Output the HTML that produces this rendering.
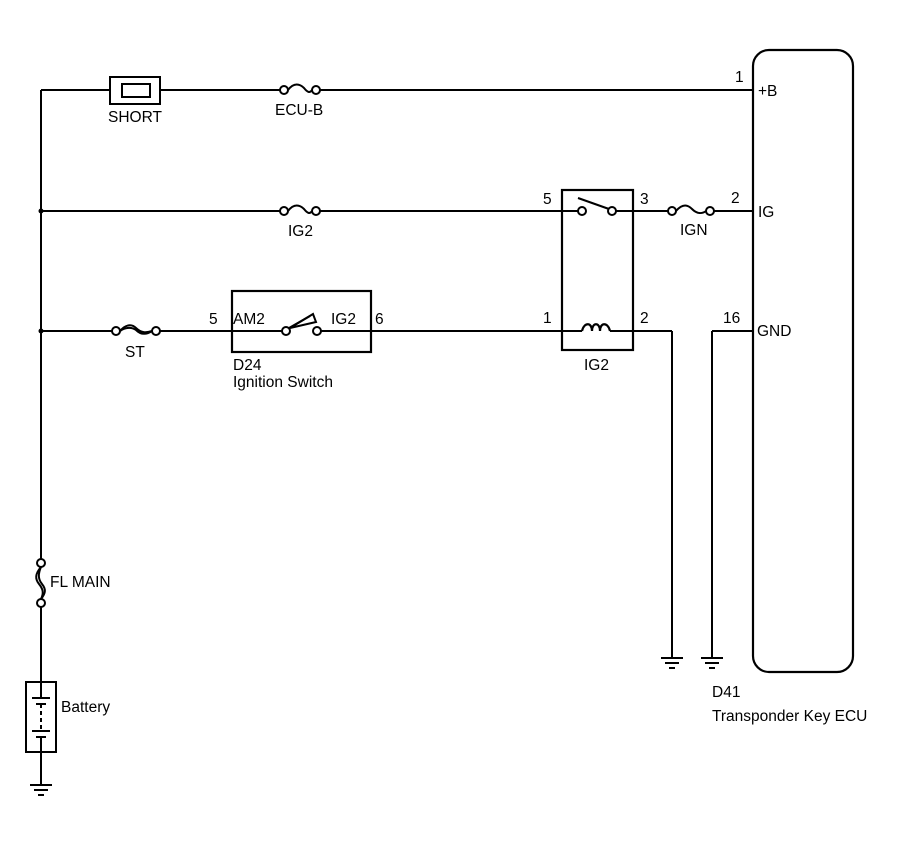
<!DOCTYPE html>
<html><head><meta charset="utf-8"><style>
html,body{margin:0;padding:0;background:#fff;}
svg{display:block;}
text{font-family:"Liberation Sans",Arial,sans-serif;font-size:15.5px;fill:#000;}
</style></head><body>
<svg width="907" height="866" viewBox="0 0 907 866" xmlns="http://www.w3.org/2000/svg">
<g stroke="#000" stroke-width="2" fill="none">
<rect x="753" y="50" width="100" height="622" rx="16" ry="16" stroke-width="2.2"/>
<line x1="41" y1="90" x2="41" y2="559"/>
<line x1="41" y1="607" x2="41" y2="785"/>
<line x1="41" y1="90" x2="110" y2="90"/>
<line x1="160" y1="90" x2="280" y2="90"/>
<line x1="320" y1="90" x2="753" y2="90"/>
<rect x="110" y="77" width="50" height="27"/>
<rect x="122" y="84" width="28" height="13"/>
<circle cx="284" cy="90" r="4"/><circle cx="316" cy="90" r="4"/>
<path d="M288,90 C294,82 300,84 304,88 C308,93 310,93 312,90"/>
<line x1="41" y1="211" x2="280" y2="211"/>
<line x1="320" y1="211" x2="578" y2="211"/>
<circle cx="284" cy="211" r="4"/><circle cx="316" cy="211" r="4"/>
<path d="M288,211 C294,203 300,205 304,209 C308,214 310,214 312,211"/>
<rect x="562" y="190" width="71" height="160" stroke-width="2.2"/>
<circle cx="582" cy="211" r="4"/><circle cx="612" cy="211" r="4"/>
<line x1="578" y1="198" x2="609" y2="209"/>
<line x1="616" y1="211" x2="668" y2="211"/>
<circle cx="672" cy="211" r="4"/><circle cx="710" cy="211" r="4"/>
<path d="M676,211 C683,203 688,205 692,209 C697,214 702,214 706,211"/>
<line x1="714" y1="211" x2="753" y2="211"/>
<line x1="41" y1="331" x2="112" y2="331"/>
<circle cx="116" cy="331" r="4"/><circle cx="156" cy="331" r="4"/>
<path d="M120,331 C126,324 132,324 136,328 C141,333 146,333 152,331"/>
<path d="M120,331 C126,327 132,327 136,330 C141,335 146,335 152,331"/>
<line x1="160" y1="331" x2="282" y2="331"/>
<rect x="232" y="291" width="139" height="61" stroke-width="2.2"/>
<circle cx="286" cy="331" r="4"/><circle cx="317" cy="331" r="4"/>
<line x1="289" y1="328" x2="310" y2="316"/>
<path d="M290,328 L313,314 L316,322 Z"/>
<line x1="321" y1="331" x2="582" y2="331"/>
<path d="M582,331 C584,322 592,322 592,331 C592,322 600,322 600,331 C600,322 608,322 610,331" stroke-width="2.2"/>
<line x1="610" y1="331" x2="672" y2="331"/>
<line x1="672" y1="331" x2="672" y2="658"/>
<line x1="753" y1="331" x2="712" y2="331"/>
<line x1="712" y1="331" x2="712" y2="658"/>
<line x1="661" y1="658" x2="683" y2="658"/><line x1="665" y1="663" x2="679" y2="663"/><line x1="669" y1="668" x2="675" y2="668"/>
<line x1="701" y1="658" x2="723" y2="658"/><line x1="705" y1="663" x2="719" y2="663"/><line x1="709" y1="668" x2="715" y2="668"/>
<line x1="30" y1="785" x2="52" y2="785"/><line x1="34" y1="790" x2="48" y2="790"/><line x1="38" y1="795" x2="44" y2="795"/>
<circle cx="41" cy="563" r="4"/><circle cx="41" cy="603" r="4"/>
<path d="M41,567 C35,574 35,579 39,584 C43,589 44,593 41,599"/>
<path d="M41,567 C38,574 38,579 42,584 C46,589 46,593 41,599"/>
<rect x="26" y="682" width="30" height="70" fill="#fff"/>
<line x1="41" y1="682" x2="41" y2="698"/>
<line x1="32" y1="698" x2="50" y2="698"/>
<line x1="36" y1="704" x2="46" y2="704"/>
<line x1="41" y1="704" x2="41" y2="730" stroke-dasharray="4,3"/>
<line x1="32" y1="731" x2="50" y2="731"/>
<line x1="36" y1="737" x2="46" y2="737"/>
<line x1="41" y1="737" x2="41" y2="752"/>
</g>
<circle cx="41" cy="211" r="2.5" fill="#000"/>
<circle cx="41" cy="331" r="2.5" fill="#000"/>
<text x="108" y="122">SHORT</text>
<text x="275" y="115">ECU-B</text>
<text x="735" y="82">1</text>
<text x="758" y="96">+B</text>
<text x="288" y="236">IG2</text>
<text x="543" y="204">5</text>
<text x="640" y="204">3</text>
<text x="680" y="235">IGN</text>
<text x="731" y="203">2</text>
<text x="758" y="217">IG</text>
<text x="125" y="357">ST</text>
<text x="209" y="324">5</text>
<text x="233" y="324">AM2</text>
<text x="331" y="324">IG2</text>
<text x="375" y="324">6</text>
<text x="233" y="370">D24</text>
<text x="233" y="387">Ignition Switch</text>
<text x="543" y="323">1</text>
<text x="640" y="323">2</text>
<text x="584" y="370">IG2</text>
<text x="723" y="323">16</text>
<text x="757" y="336">GND</text>
<text x="50" y="587">FL MAIN</text>
<text x="61" y="712">Battery</text>
<text x="712" y="697">D41</text>
<text x="712" y="721">Transponder Key ECU</text>
</svg>
</body></html>
